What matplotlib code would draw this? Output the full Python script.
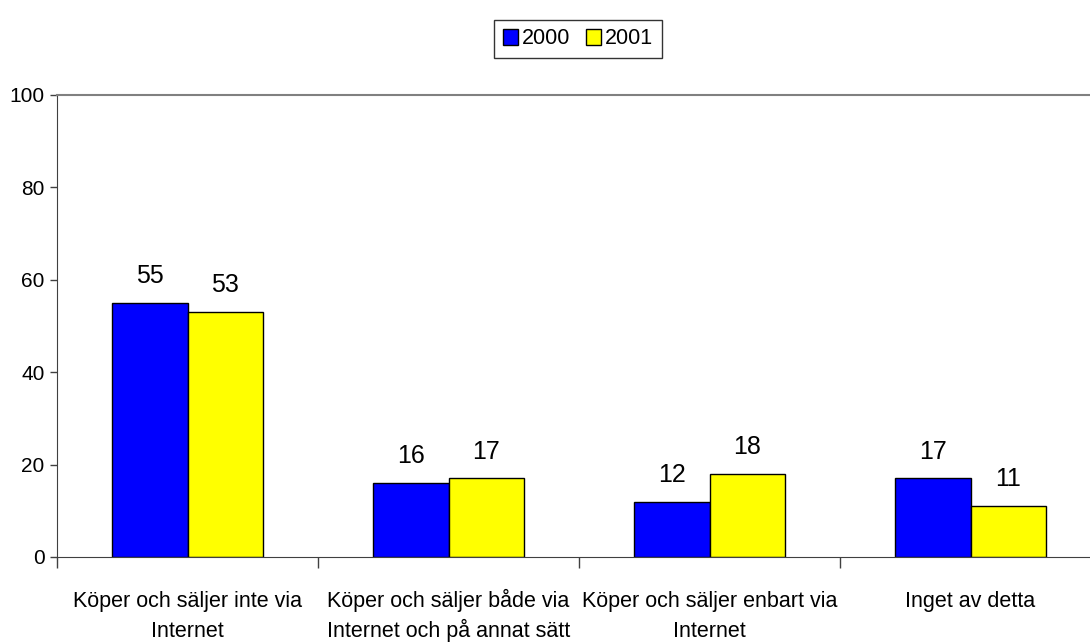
import matplotlib.pyplot as plt
import numpy as np
import matplotlib

matplotlib.rcParams['font.family'] = ['Liberation Sans', 'DejaVu Sans']

categories = ["Köper och säljer inte via\nInternet",
              "Köper och säljer både via\nInternet och på annat sätt",
              "Köper och säljer enbart via\nInternet",
              "Inget av detta"]
y2000 = [55, 16, 12, 17]
y2001 = [53, 17, 18, 11]

W, H = 1090, 643
fig = plt.figure(figsize=(W / 100, H / 100), dpi=100)
# plot area in pixels: left 57, right 1101, top 95, bottom 557
ax = fig.add_axes([57 / W, (H - 557) / H, (1101 - 57) / W, (557 - 95) / H])

index = np.arange(len(categories))
width = 0.29
ax.bar(index - width / 2, y2000, width=width, color='#0000FF', edgecolor='black', linewidth=1, label='2000')
ax.bar(index + width / 2, y2001, width=width, color='#FFFF00', edgecolor='black', linewidth=1, label='2001')

for i in index:
    ax.text(i - width / 2, y2000[i] + 4.3, str(y2000[i]), ha='center', va='baseline', fontsize=18)
    ax.text(i + width / 2, y2001[i] + 4.3, str(y2001[i]), ha='center', va='baseline', fontsize=18)

ax.set_xlim(-0.5, len(categories) - 0.5)
ax.set_ylim(0, 100)
ax.set_yticks(np.arange(0, 101, 20))
ax.tick_params(axis='y', labelsize=15, length=5, width=1, color='#404040', pad=4)

# category labels, one line at a time so each row shares a baseline
ax.set_xticks([])
for i, lab in enumerate(categories):
    for j, line in enumerate(lab.split("\n")):
        ax.annotate(line, xy=(i, 0), xycoords=('data', 'axes fraction'),
                    xytext=(0, -50 - 30 * j), textcoords='offset pixels',
                    ha='center', va='baseline', fontsize=15.5, annotation_clip=False)
ax.set_xticks(np.arange(-0.5, len(categories), 1), minor=True)
ax.tick_params(axis='x', which='minor', length=8, width=1, color='#404040', direction='out')

ax.spines['right'].set_visible(False)
ax.spines['top'].set_color('#808080')
ax.spines['top'].set_linewidth(1.5)
ax.spines['left'].set_color('#404040')
ax.spines['bottom'].set_color('#404040')

leg = ax.legend(loc='center', bbox_to_anchor=(578 / W, 1 - 39 / H), bbox_transform=fig.transFigure,
                ncol=2, fontsize=15.5, frameon=True, fancybox=False, edgecolor='black',
                handlelength=0.7, handleheight=0.8, handletextpad=0.2, columnspacing=0.7,
                borderpad=0.4, borderaxespad=0)
leg.get_frame().set_linewidth(1)

fig.savefig("out.png", dpi=100)
